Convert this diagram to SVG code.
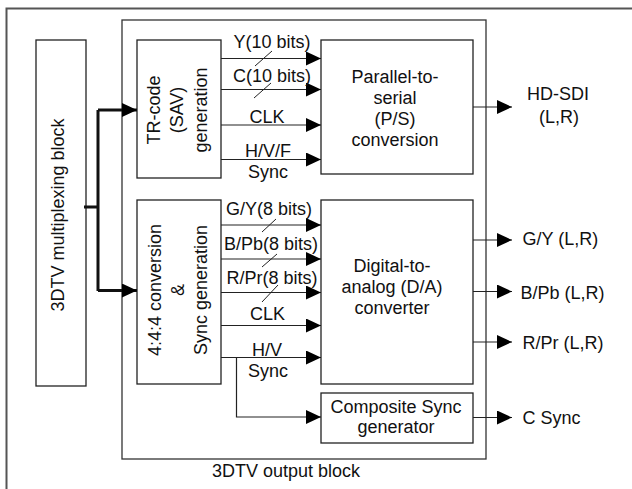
<svg xmlns="http://www.w3.org/2000/svg" width="632" height="489" viewBox="0 0 632 489">
<style>
text{font-family:"Liberation Sans",Arial,sans-serif;font-size:18px;fill:#111;text-anchor:middle}
.box{fill:#fff;stroke:#222;stroke-width:1.3}
.ln{fill:none;stroke:#222;stroke-width:1.2}
.bus{fill:none;stroke:#111;stroke-width:3}
.tick{fill:none;stroke:#222;stroke-width:1}
</style>
<defs>
<marker id="ah" markerUnits="userSpaceOnUse" markerWidth="15" markerHeight="14" refX="15" refY="7" orient="auto">
<path d="M0,0 L15,7 L0,14 z" fill="#000"/>
</marker>
</defs>
<rect x="6.5" y="8.5" width="700" height="600" fill="#fff" stroke="#555" stroke-width="2"/>
<g id="output-block">
<rect x="122" y="20" width="364" height="439" fill="none" stroke="#333" stroke-width="1.3"/>
<text x="286" y="477">3DTV output block</text>
</g>
<g id="mux">
<rect class="box" x="36" y="40" width="50" height="346"/>
<text transform="translate(64,215) rotate(-90)">3DTV multiplexing block</text>
</g>
<g id="trcode">
<rect class="box" x="137" y="40" width="84" height="138"/>
<text transform="translate(159.5,110) rotate(-90)">TR-code</text>
<text transform="translate(183,110) rotate(-90)">(SAV)</text>
<text transform="translate(207,110) rotate(-90)">generation</text>
</g>
<g id="ps">
<rect class="box" x="321" y="40" width="152" height="134"/>
<text x="395" y="83">Parallel-to-</text>
<text x="395" y="104">serial</text>
<text x="395" y="125">(P/S)</text>
<text x="395" y="146">conversion</text>
</g>
<g id="conv444">
<rect class="box" x="137" y="200" width="84" height="184"/>
<text transform="translate(160.5,290) rotate(-90)">4:4:4 conversion</text>
<text transform="translate(183.5,290) rotate(-90)">&amp;</text>
<text transform="translate(206.7,290) rotate(-90)">Sync generation</text>
</g>
<g id="da">
<rect class="box" x="321" y="200" width="152" height="184"/>
<text x="392" y="272">Digital-to-</text>
<text x="392" y="293">analog (D/A)</text>
<text x="392" y="314">converter</text>
</g>
<g id="csync">
<rect class="box" x="321" y="393" width="152" height="50"/>
<text x="396" y="413">Composite Sync</text>
<text x="396" y="433">generator</text>
</g>
<g id="connectors">
<path class="bus" d="M84,207 H98 M98,110 V291"/>
<path class="bus" d="M98,110 H137" marker-end="url(#ah)"/>
<path class="bus" d="M98,290.5 H137" marker-end="url(#ah)"/>
<path class="ln" d="M221,58.5 H321" marker-end="url(#ah)"/>
<path class="ln" d="M221,89.5 H321" marker-end="url(#ah)"/>
<path class="ln" d="M221,125 H321" marker-end="url(#ah)"/>
<path class="ln" d="M221,159.5 H321" marker-end="url(#ah)"/>
<path class="tick" d="M255,66 L272,51 M254,98 L271,83"/>
<path class="ln" d="M473,107 H512" marker-end="url(#ah)"/>
<path class="ln" d="M221,225 H321" marker-end="url(#ah)"/>
<path class="ln" d="M221,259 H321" marker-end="url(#ah)"/>
<path class="ln" d="M221,292.5 H321" marker-end="url(#ah)"/>
<path class="ln" d="M221,325.5 H321" marker-end="url(#ah)"/>
<path class="ln" d="M221,357.5 H321" marker-end="url(#ah)"/>
<path class="ln" d="M236.5,357.5 V417 H321" marker-end="url(#ah)"/>
<path class="tick" d="M262,232 L276,219 M262,267 L277,254 M262,302 L278,285"/>
<path class="ln" d="M473,240 H512" marker-end="url(#ah)"/>
<path class="ln" d="M473,291.5 H512" marker-end="url(#ah)"/>
<path class="ln" d="M473,342 H512" marker-end="url(#ah)"/>
<path class="ln" d="M473,417.5 H512" marker-end="url(#ah)"/>
</g>
<g id="labels">
<text x="272" y="48">Y(10 bits)</text>
<text x="272" y="81.5">C(10 bits)</text>
<text x="267" y="122.5">CLK</text>
<text x="268" y="156.5">H/V/F</text>
<text x="268" y="178">Sync</text>
<text x="269" y="215">G/Y(8 bits)</text>
<text x="271" y="250">B/Pb(8 bits)</text>
<text x="272" y="284">R/Pr(8 bits)</text>
<text x="267.5" y="320">CLK</text>
<text x="267" y="355.5">H/V</text>
<text x="268" y="376.5">Sync</text>
<text x="558" y="100">HD-SDI</text>
<text x="559" y="122.5">(L,R)</text>
<text x="522.5" y="245" style="text-anchor:start">G/Y (L,R)</text>
<text x="520.5" y="299" style="text-anchor:start">B/Pb (L,R)</text>
<text x="522.5" y="349" style="text-anchor:start">R/Pr (L,R)</text>
<text x="522.5" y="424" style="text-anchor:start">C Sync</text>
</g>
</svg>
